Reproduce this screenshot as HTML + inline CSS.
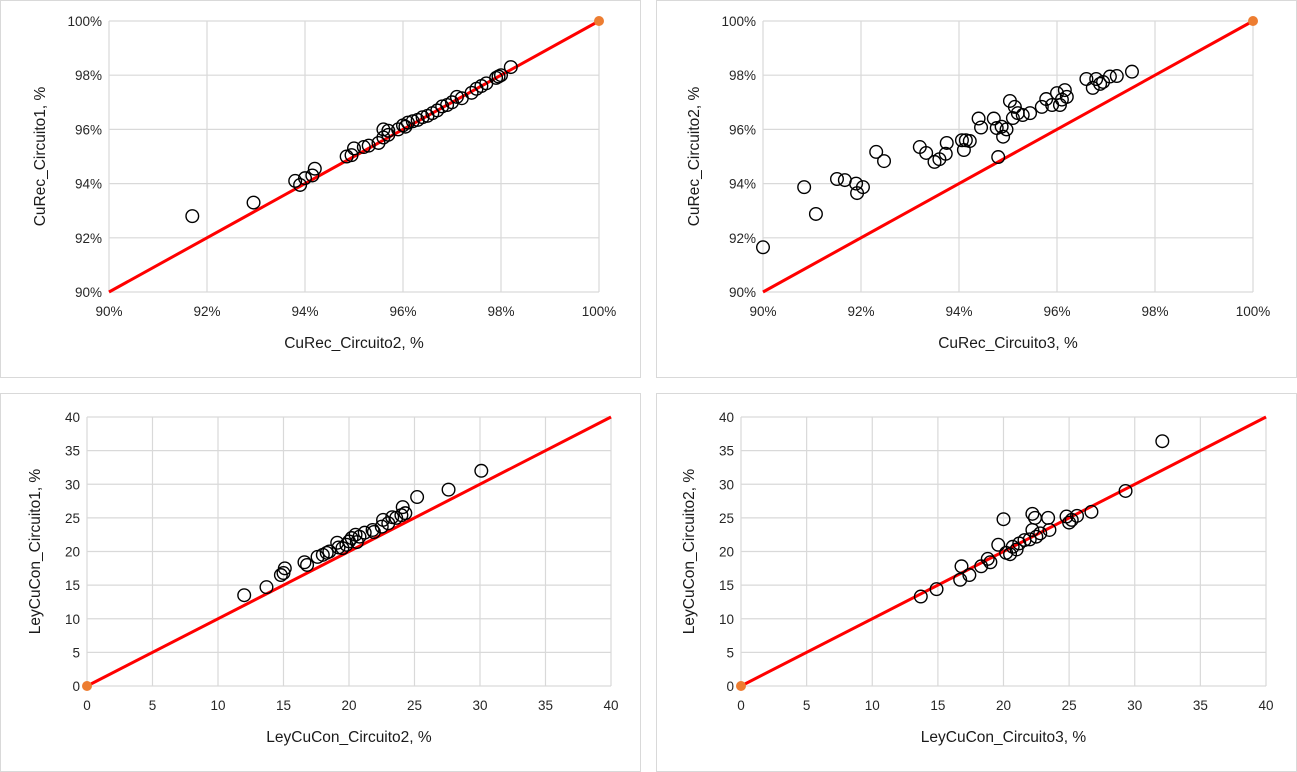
<!DOCTYPE html>
<html><head><meta charset="utf-8">
<style>
body{margin:0;background:#fff;width:1297px;height:772px;overflow:hidden;font-family:"Liberation Sans",Arial,sans-serif;}
svg{display:block}
</style></head>
<body>
<svg id="root" width="1297" height="772"></svg>
<script>
// Panel 1: CuRec_Circuito2 (x) vs CuRec_Circuito1 (y)
const p1x=[91.7,92.95,93.8,93.9,94.0,94.15,94.2,94.85,94.95,95.0,95.2,95.3,95.5,95.6,95.6,95.7,95.7,95.9,96.05,96.1,96.2,96.3,96.5,96.6,96.7,96.8,96.9,97.0,97.1,97.2,97.4,97.5,97.6,97.7,97.9,98.0,97.95,98.2,96.4,96.0];
const p1y=[92.8,93.3,94.1,93.95,94.2,94.3,94.55,95.0,95.05,95.3,95.35,95.4,95.5,95.7,96.0,95.8,95.95,96.0,96.1,96.25,96.3,96.35,96.5,96.6,96.7,96.85,96.9,97.0,97.2,97.15,97.35,97.5,97.6,97.7,97.9,98.0,97.95,98.3,96.45,96.15];
// Panel 2: CuRec_Circuito3 (x) vs CuRec_Circuito2 (y)
const p2x=[90.0,90.84,91.08,91.51,91.67,91.9,92.04,91.92,92.31,92.47,93.2,93.33,93.5,93.6,93.73,93.75,94.06,94.14,94.22,94.1,94.4,94.45,94.8,94.71,94.77,94.87,94.9,94.97,95.04,95.14,95.1,95.2,95.3,95.45,95.69,95.78,95.9,96.0,96.1,96.16,96.2,96.06,96.6,96.73,96.8,96.88,97.08,97.22,97.53,96.94];
const p2y=[91.65,93.87,92.88,94.17,94.13,94.0,93.87,93.65,95.17,94.83,95.35,95.13,94.8,94.9,95.1,95.5,95.6,95.6,95.57,95.24,96.4,96.07,94.98,96.4,96.05,96.1,95.73,96.0,97.05,96.83,96.42,96.6,96.53,96.6,96.83,97.12,96.9,97.34,97.1,97.45,97.2,96.9,97.86,97.53,97.86,97.68,97.95,97.97,98.13,97.75];
// Panel 3: LeyCuCon_Circuito2 (x) vs LeyCuCon_Circuito1 (y)
const p3x=[12.0,13.7,15.0,15.1,14.8,16.6,16.8,17.6,18.3,18.5,19.1,19.5,19.8,20.2,20.5,20.8,20.6,21.8,22.5,22.6,23.3,23.6,24.1,24.3,25.2,27.6,30.1,18.0,19.2,20.0,21.2,21.9,23.0,24.0];
const p3y=[13.5,14.7,16.8,17.5,16.5,18.4,18.0,19.2,19.8,20.0,21.3,20.5,21.0,22.0,22.5,22.2,21.4,23.2,23.7,24.7,25.1,25.0,26.6,25.7,28.1,29.2,32.0,19.5,20.6,21.5,22.8,22.9,24.2,25.4];
// Panel 4: LeyCuCon_Circuito3 (x) vs LeyCuCon_Circuito2 (y)
const p4x=[13.7,14.9,16.7,16.8,17.4,18.3,19.0,19.6,20.0,20.2,20.7,21.2,21.6,22.2,22.4,22.2,22.5,22.8,23.4,23.5,24.8,25.2,25.6,26.7,29.3,32.1,20.5,21.0,22.0,25.0,18.8];
const p4y=[13.3,14.4,15.8,17.8,16.5,17.8,18.4,21.0,24.8,19.8,20.7,21.2,21.7,25.6,25.0,23.2,22.2,22.7,25.0,23.2,25.2,24.7,25.3,25.9,29.0,36.4,19.6,20.3,21.8,24.3,18.9];
const pctTicks=[90,92,94,96,98,100];
const numTicks=[0,5,10,15,20,25,30,35,40];

const NS="http://www.w3.org/2000/svg";
const root=document.getElementById('root');
function mk(tag,attrs,parent){const e=document.createElementNS(NS,tag);for(const k in attrs)e.setAttribute(k,attrs[k]);parent.appendChild(e);return e;}

const panels=[
 {box:[0,0,641,378],pl:109,pr:599,pt:21,pb:292,ticks:pctTicks,pct:true,xs:p1x,ys:p1y,xt:"CuRec_Circuito2, %",yt:"CuRec_Circuito1, %",end:[100,100],name:"panel-curec-c1-vs-c2"},
 {box:[656,0,641,378],pl:763,pr:1253,pt:21,pb:292,ticks:pctTicks,pct:true,xs:p2x,ys:p2y,xt:"CuRec_Circuito3, %",yt:"CuRec_Circuito2,  %",end:[100,100],name:"panel-curec-c2-vs-c3"},
 {box:[0,393,641,379],pl:87,pr:611,pt:417,pb:686,ticks:numTicks,pct:false,xs:p3x,ys:p3y,xt:"LeyCuCon_Circuito2, %",yt:"LeyCuCon_Circuito1, %",end:[0,0],name:"panel-leycucon-c1-vs-c2"},
 {box:[656,393,641,379],pl:741,pr:1266,pt:417,pb:686,ticks:numTicks,pct:false,xs:p4x,ys:p4y,xt:"LeyCuCon_Circuito3, %",yt:"LeyCuCon_Circuito2, %",end:[0,0],name:"panel-leycucon-c2-vs-c3"}
];

panels.forEach(P=>{
 const g=mk('g',{},root);
 
 
 const b=P.box;
 const fr=mk('rect',{x:b[0]+0.5,y:b[1]+0.5,width:b[2]-1,height:b[3]-1,fill:'#fff',stroke:'#d9d9d9'},g);
 
 
 const lo=P.ticks[0],hi=P.ticks[P.ticks.length-1];
 const sx=v=>P.pl+(v-lo)/(hi-lo)*(P.pr-P.pl);
 const sy=v=>P.pb-(v-lo)/(hi-lo)*(P.pb-P.pt);
 P.ticks.forEach(t=>{
  const gx=mk('line',{x1:sx(t),x2:sx(t),y1:P.pt,y2:P.pb,stroke:'#d9d9d9','stroke-width':1.2},g);
  
  
  const gy=mk('line',{x1:P.pl,x2:P.pr,y1:sy(t),y2:sy(t),stroke:'#d9d9d9','stroke-width':1.2},g);
  
  
  const lab=P.pct?t+'%':String(t);
  const tx=mk('text',{x:sx(t),y:P.pb+24,'text-anchor':'middle','font-size':13.5,fill:'#262626'},g);
  tx.textContent=lab;
  
  
  const ty=mk('text',{x:P.pl-7,y:sy(t)+5,'text-anchor':'end','font-size':13.5,fill:'#262626'},g);
  ty.textContent=lab;
  
  
 });
 const xt=mk('text',{x:(P.pl+P.pr)/2,y:P.pb+56,'text-anchor':'middle','font-size':15.5,fill:'#1a1a1a'},g);
 xt.textContent=P.xt;
 
 
 const cy=(P.pt+P.pb)/2, cx=P.pl-(P.pct?64:47);
 const yt=mk('text',{x:cx,y:cy,'text-anchor':'middle','font-size':15.5,fill:'#1a1a1a',transform:`rotate(-90 ${cx} ${cy})`},g);
 yt.textContent=P.yt;
 
 
 const ln=mk('line',{x1:sx(lo),y1:sy(lo),x2:sx(hi),y2:sy(hi),stroke:'#ff0000','stroke-width':3},g);
 
 
 P.xs.forEach((v,i)=>{
  const c=mk('circle',{cx:sx(v),cy:sy(P.ys[i]),r:6.3,fill:'none',stroke:'#000','stroke-width':1.4},g);
  
  
 });
 const e=mk('circle',{cx:sx(P.end[0]),cy:sy(P.end[1]),r:5,fill:'#ed7d31'},g);
 
 
});
</script>
</body></html>
